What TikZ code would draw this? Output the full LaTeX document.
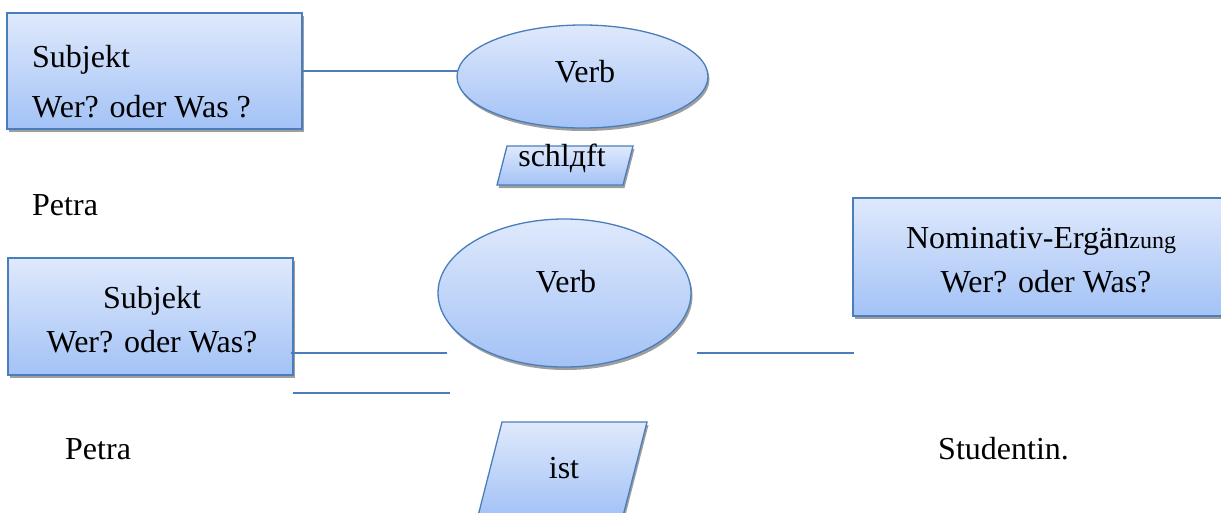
\documentclass[tikz,border=0pt]{standalone}
\usepackage{fontspec}
\setmainfont{Liberation Serif}
\usetikzlibrary{shapes.geometric,shadows}
\definecolor{bordc}{HTML}{4A7EBB}
\definecolor{topc}{HTML}{DFE9FC}
\definecolor{botc}{HTML}{A3C2F6}
\definecolor{shadc}{HTML}{9E9E9E}
\tikzset{
  shapefill/.style={draw=bordc, line width=1.3pt, top color=topc, bottom color=botc,
    drop shadow={shadow xshift=1.5pt, shadow yshift=-3pt, fill=shadc, opacity=1},
    inner sep=0pt, outer sep=0pt},
  boxshape/.style={shapefill, rectangle},
  ovalshape/.style={shapefill, ellipse},
  txt/.style={inner sep=0pt, font=\fontsize{32}{38}\selectfont},
  link/.style={draw=bordc, line width=1.5pt}
}
\begin{document}
\begin{tikzpicture}[x=1pt,y=-1pt]
\useasboundingbox (0,0) rectangle (1221,512);
\clip (0,0) rectangle (1221,512);
\fill[white] (0,0) rectangle (1221,512);

% shapes
\node[boxshape, minimum width=295pt, minimum height=116pt] (box1) at (154.5,71) {};
\node[ovalshape, minimum width=251pt, minimum height=103pt] (v1) at (582.5,76.5) {};
\coordinate (p1a) at (497,185);
\coordinate (p1b) at (507,146);
\coordinate (p1c) at (633,146);
\coordinate (p1d) at (623,185);
\path[shapefill] (p1a) -- (p1b) -- (p1c) -- (p1d) -- cycle;
\node[boxshape, minimum width=285pt, minimum height=117pt] (box2) at (150.5,316.5) {};
\node[ovalshape, minimum width=253pt, minimum height=148pt] (v2) at (564.5,293) {};
\node[boxshape, minimum width=382pt, minimum height=118pt] (box3) at (1044,257) {};
\coordinate (p2a) at (478,516);
\coordinate (p2b) at (502,422);
\coordinate (p2c) at (647,422);
\coordinate (p2d) at (623,516);
\path[shapefill] (p2a) -- (p2b) -- (p2c) -- (p2d) -- cycle;

% connectors
\draw[link] (box1.east) -- (box1.east -| v1.west);
\coordinate (a1) at (291,353);
\coordinate (a2) at (447,353);
\coordinate (b1) at (293,393);
\coordinate (b2) at (450,393);
\coordinate (c1) at (697,353);
\coordinate (c2) at (854,353);
\draw[link] (a1) -- (a2);
\draw[link] (b1) -- (b2);
\draw[link] (c1) -- (c2);

% texts
\node[txt, anchor=base west] (t1a) at (32,67) {Subjekt};
\node[txt, anchor=base west] (t1b) at (32,117) {Wer? oder Was ?};
\node[txt, anchor=base] (tv1) at (585,82) {Verb};
\node[txt, anchor=base] (tp1) at (562,166) {schlдft};
\node[txt, anchor=base west] (petra1) at (32,215) {Petra};
\node[txt, anchor=base] (t2a) at (152,308) {Subjekt};
\node[txt, anchor=base] (t2b) at (152,352) {Wer? oder Was?};
\node[txt, anchor=base] (tv2) at (566,292) {Verb};
\node[txt, anchor=base] (t3a) at (1041,248) {Nominativ-Ergän{\fontsize{24}{28}\selectfont zung}};
\node[txt, anchor=base] (t3b) at (1046,292) {Wer? oder Was?};
\node[txt, anchor=base west] (petra2) at (65,459) {Petra};
\node[txt, anchor=base] (tp2) at (564,478) {ist};
\node[txt, anchor=base west] (stud) at (938,459) {Studentin.};
\end{tikzpicture}
\end{document}
